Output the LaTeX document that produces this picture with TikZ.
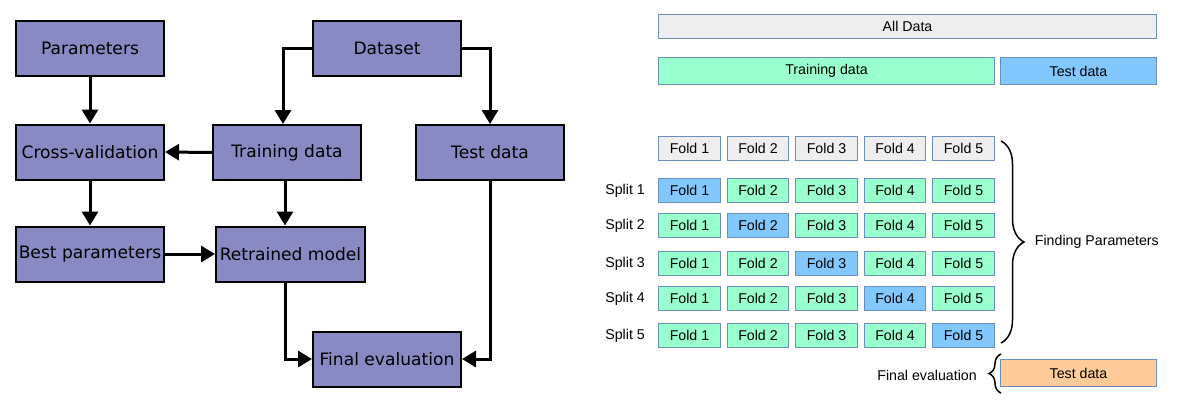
\documentclass[tikz,border=0pt]{standalone}
\usepackage{fontspec}
\setmainfont{DejaVu Sans}
\newfontfamily\arialf{Liberation Sans}
\usetikzlibrary{arrows.meta,decorations.pathreplacing,calc}
\definecolor{boxfill}{RGB}{137,138,196}
\definecolor{cellborder}{RGB}{108,142,191}
\definecolor{cellgray}{RGB}{238,238,238}
\definecolor{cellgreen}{RGB}{153,255,204}
\definecolor{cellblue}{RGB}{130,200,255}
\definecolor{cellpeach}{RGB}{255,204,153}
\begin{document}
\begin{tikzpicture}[x=1pt,y=-1pt,
  flowbox/.style={draw=black,line width=2pt,fill=boxfill,minimum width=148pt,minimum height=55pt,inner sep=0pt,font=\fontsize{17.1}{20}\selectfont},
  flowarrow/.style={line width=3pt,-{Triangle[length=14pt,width=16pt]}},
  cell/.style={draw=cellborder,line width=1pt,minimum height=24pt,inner sep=0pt,font=\arialf\fontsize{14.2}{16}\selectfont},
  lbl/.style={inner sep=0pt,font=\arialf\fontsize{14.2}{16}\selectfont},
  bracestyle/.style={line width=1.5pt,decorate}
]
\useasboundingbox (0,0) rectangle (1178,405);
% ---------- left flow chart ----------
\node[flowbox] (par) at (90,48.5) {\raisebox{-1.5pt}{Parameters}};
\node[flowbox] (ds) at (387,48.5) {\raisebox{-1.5pt}{Dataset}};
\node[flowbox] (cv) at (90,152) {Cross-validation};
\node[flowbox] (tr) at (287,152.5) {Training data};
\node[flowbox] (te) at (490,152.5) {\raisebox{-1.5pt}{Test data}};
\node[flowbox] (bp) at (90,254) {Best parameters};
\node[flowbox,minimum width=149pt] (rm) at (290.5,254) {Retrained model};
\node[flowbox] (fe) at (387,359) {\raisebox{-1.5pt}{Final evaluation}};

\draw[flowarrow] (par.south) -- (cv.north);
\draw[flowarrow] (tr.west) -- (cv.east);
\draw[flowarrow] (cv.south) -- (bp.north);
\draw[flowarrow] (bp.east) -- (rm.west);
\draw[flowarrow] (ds.west) -| ([xshift=-4pt]tr.north);
\draw[flowarrow] (ds.east) -| (te.north);
\draw[flowarrow] ([xshift=-2pt]tr.south) -- ([xshift=-2pt]tr.south |- rm.north);
\draw[flowarrow] ([xshift=-5.5pt]rm.south) |- (fe.west);
\draw[flowarrow] (te.south) |- (fe.east);

% ---------- right panel ----------
\node[cell,fill=cellgray,minimum width=498pt] (all) at (907.5,26.5) {All Data};
\node[cell,fill=cellgreen,minimum width=336pt,minimum height=27pt] (trb) at (826.5,71) {Training data};
\node[cell,fill=cellblue,minimum width=156pt,minimum height=27pt] (teb) at (1078.5,71) {Test data};

\foreach \r/\yy in {0/148.8,1/190.8,2/225.8,3/263.5,4/298.8,5/335.5}{
  \foreach \c in {1,...,5}{
    \pgfmathsetmacro\xx{689.5+68.5*(\c-1)}
    \ifnum\r=0 \def\fc{cellgray}\else\ifnum\r=\c \def\fc{cellblue}\else\def\fc{cellgreen}\fi\fi
    \node[cell,fill=\fc,minimum width=61.5pt] (f\r\c) at (\xx,\yy) {Fold \c};
  }
  \ifnum\r>0 \node[lbl,anchor=east] (s\r) at (645,\yy) {Split \r};\fi
}

\node[cell,fill=cellpeach,minimum width=156pt,minimum height=27pt] (fte) at (1078.5,373) {Test data};
\node[lbl,anchor=east] (fel) at (977,375.7) {Final evaluation};

\draw[bracestyle,decoration={brace,amplitude=23pt}] (1001,141) -- (1001,343);
\draw[bracestyle,decoration={brace,amplitude=12pt}] (1001,393) -- (1001,354);

\begin{scope}
\clip (0,0) rectangle (1158,405);
\node[lbl,anchor=west] (fpl) at (1034.7,241.7) {Finding Parameters};
\end{scope}
\end{tikzpicture}
\end{document}
